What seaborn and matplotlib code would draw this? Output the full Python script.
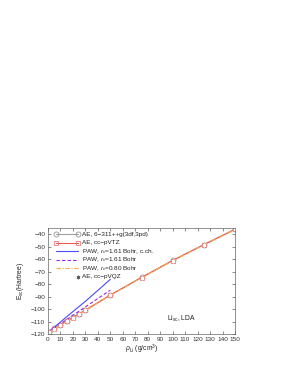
import matplotlib
matplotlib.use("Agg")
import matplotlib.pyplot as plt
import seaborn as sns
import numpy as np

# ---- data ----
rho_ae = [0.53, 5, 10, 15, 20, 25, 30, 50, 75, 100, 125, 150]
exc_631 = [-118.3, -115.5, -112.5, -109.6, -106.7, -103.8, -100.9, -88.7, -74.6, -61.0, -48.3, -36.0]
exc_tz = [-118.4, -115.6, -112.6, -109.7, -106.8, -103.9, -101.0, -88.8, -74.7, -61.1, -48.4, -36.1]
rho_qz = [0.53, 5, 10, 15, 20, 25, 30, 50, 75, 100, 125, 150]
exc_qz = [-118.4, -115.6, -112.6, -109.7, -106.8, -103.9, -101.0, -88.8, -74.7, -61.1, -48.4, -36.1]
rho_paw = [0.53, 5, 10, 15, 20, 25, 30, 50]
exc_paw_cc = [-118.2, -114.6, -110.4, -106.2, -102.0, -97.9, -93.8, -76.2]
exc_paw_161 = [-118.3, -115.2, -111.8, -108.4, -105.0, -101.6, -98.3, -84.8]
rho_paw80 = [0.53, 5, 10, 15, 20, 25, 30, 50, 75, 100, 125, 150]
exc_paw_080 = [-118.5, -115.7, -112.8, -109.9, -107.0, -104.1, -101.2, -89.0, -74.9, -61.3, -48.6, -36.3]

labels = ["AE, 6\u2212311++g(3df,3pd)", "AE, cc\u2212pVTZ",
          "PAW, $r_c$=1.61 Bohr, c.ch.", "PAW, $r_c$=1.61 Bohr",
          "PAW, $r_c$=0.80 Bohr", "AE, cc\u2212pVQZ"]

sns.set_style("ticks")
plt.rcParams['font.family'] = ['Liberation Sans', 'DejaVu Sans']
plt.rcParams['mathtext.fontset'] = 'custom'
plt.rcParams['mathtext.it'] = 'Liberation Sans:italic'
plt.rcParams['mathtext.rm'] = 'Liberation Sans'

fig = plt.figure(figsize=(2.83, 3.66), dpi=100)
ax = fig.add_axes([48/283, 32/366, 187/283, 106/366])

fs = 4.9
styles = [
    dict(color="#a0a0a0", lw=0.8, marker="o", markersize=3.6, markerfacecolor="none",
         markeredgecolor="#999999", markeredgewidth=0.6),
    dict(color="#f05a4a", lw=0.8, marker="s", markersize=3.0, markerfacecolor="none",
         markeredgecolor="#f07a7a", markeredgewidth=0.6),
    dict(color="#4a4aff", lw=0.8),
    dict(color="#a020f0", lw=0.8, linestyle=(0, (3, 2))),
    dict(color="#ffa850", lw=0.8, linestyle=(0, (4, 1.5, 1, 1.5))),
    dict(color="#606060", lw=0, marker=(6, 2, 0), markersize=2.6, markeredgewidth=0.6),
]
series = [(rho_ae, exc_631), (rho_ae, exc_tz), (rho_paw, exc_paw_cc),
          (rho_paw, exc_paw_161), (rho_paw80, exc_paw_080), (rho_qz, exc_qz)]
for (xs, ys), st in zip(series, styles):
    sns.lineplot(x=xs, y=ys, ax=ax, legend=False, **st)

ax.set_xlim(0, 150)
ax.set_ylim(-120, -35)
ax.set_xticks(np.arange(0, 151, 10))
ax.set_yticks(np.arange(-120, -39, 10))
ax.tick_params(direction="in", length=2.5, width=0.4, labelsize=4.6, colors="#333333",
               top=True, right=True, pad=2)
for s in ax.spines.values():
    s.set_linewidth(0.5)
    s.set_color("#666666")

ax.set_xlabel(r"$\rho_{\rm Li}$ (g/cm$^3$)", fontsize=fs, labelpad=1, color="#222222")
ax.set_ylabel(r"E$_{\rm xc}$(Hartree)", fontsize=fs, labelpad=3, color="#222222")
ax.text(107, -108, r"Li$_{\rm sc}$, LDA", fontsize=fs, ha="center", va="center", color="#222222")

# gnuplot-style key
x0, x1, xt = 8/187, 30/187, 34/187
ytop, dy = 0.94, 0.0804
lfs = 4.6
for i, (lab, st) in enumerate(zip(labels, styles)):
    y = ytop - i * dy
    if i == 5:
        ax.plot([x1], [y], transform=ax.transAxes, clip_on=False, **st)
    else:
        ax.plot([x0, x1], [y, y], transform=ax.transAxes, clip_on=False, **st)
    ax.text(xt, y, lab, transform=ax.transAxes, fontsize=lfs, va="center", ha="left",
            color="#222222")

fig.savefig("out.png", dpi=100)
